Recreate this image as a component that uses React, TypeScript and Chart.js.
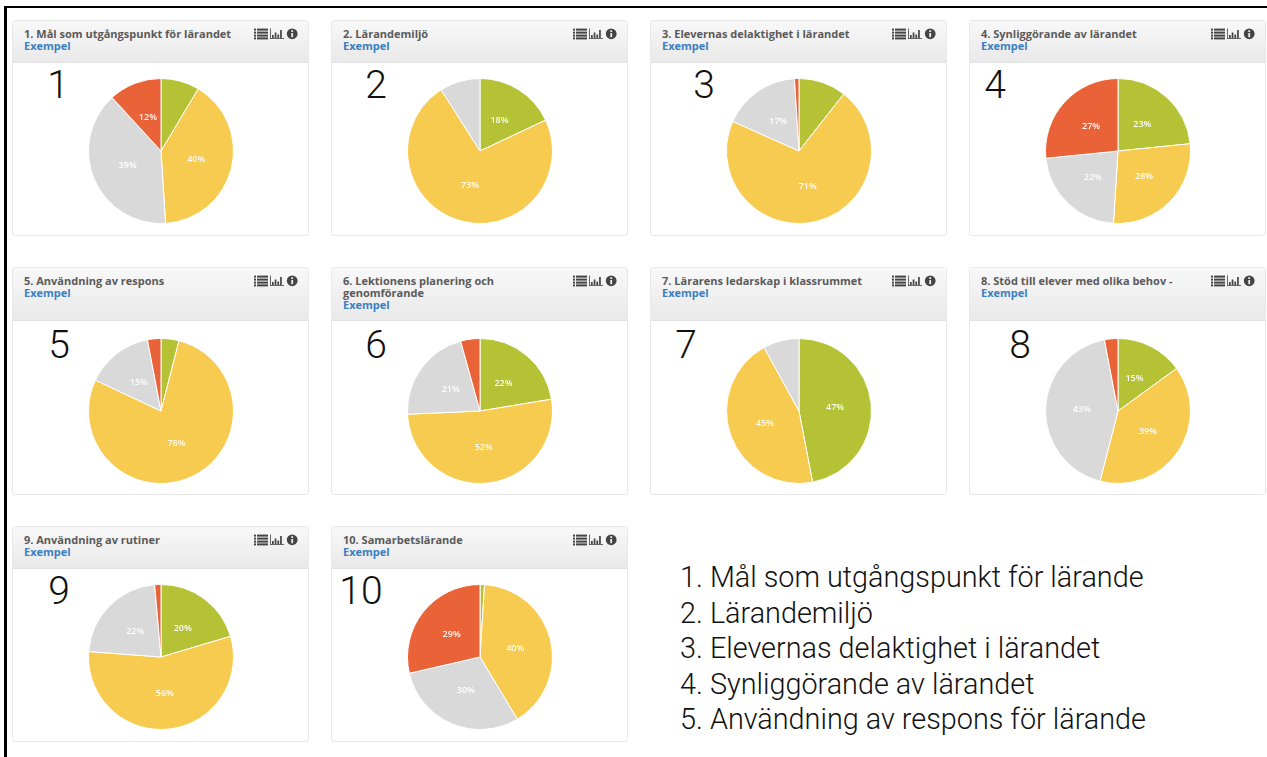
import React, { useEffect, useRef } from "react";
import { Chart, registerables } from "chart.js";

Chart.register(...registerables);

const segmentNames = ["Grön", "Gul", "Grå", "Röd"];
const segmentColors = ["#b5c235", "#f7cb4f", "#d9d9d9", "#ea6238"];

const titles = [
  "1. Mål som utgångspunkt för lärandet",
  "2. Lärandemiljö",
  "3. Elevernas delaktighet i lärandet",
  "4. Synliggörande av lärandet",
  "5. Användning av respons",
  "6. Lektionens planering och genomförande",
  "7. Lärarens ledarskap i klassrummet",
  "8. Stöd till elever med olika behov -",
  "9. Användning av rutiner",
  "10. Samarbetslärande",
];

const pie1 = [8.6, 40.4, 39.2, 11.8];
const pie2 = [18, 73, 9, 0];
const pie3 = [10.6, 71.1, 17.3, 1];
const pie4 = [23.4, 27.6, 22.4, 26.6];
const pie5 = [4, 78, 15, 3];
const pie6 = [22.4, 51.9, 21.4, 4.3];
const pie7 = [47, 45, 8, 0];
const pie8 = [15, 39, 43, 3];
const pie9 = [20.4, 55.8, 22.4, 1.4];
const pie10 = [1, 40.4, 30, 28.6];
const pies = [pie1, pie2, pie3, pie4, pie5, pie6, pie7, pie8, pie9, pie10];

const legendLines = [
  "1. Mål som utgångspunkt för lärande",
  "2. Lärandemiljö",
  "3. Elevernas delaktighet i lärandet",
  "4. Synliggörande av lärandet",
  "5. Användning av respons för lärande",
];

const colX = [12, 331, 650, 969];
const rows = [
  { top: 20, height: 216, header: 42, cy: 151 },
  { top: 267, height: 228, header: 53, cy: 411 },
  { top: 526, height: 216, header: 42, cy: 657 },
];
const numberX = [58, 376, 704, 995, 59, 376, 686, 1020, 59, 361];

const labelPlugin = {
  id: "pctLabels",
  afterDatasetsDraw(chart: any) {
    const ctx = chart.ctx;
    const meta = chart.getDatasetMeta(0);
    const data = chart.data.datasets[0].data;
    ctx.save();
    ctx.font = "600 9px 'Open Sans'";
    ctx.fillStyle = "rgba(255,255,255,0.95)";
    ctx.textAlign = "center";
    ctx.textBaseline = "middle";
    meta.data.forEach((arc: any, i: number) => {
      if (data[i] < 11.5) return;
      const p = arc.tooltipPosition();
      ctx.fillText(Math.round(data[i]) + "%", p.x, p.y);
    });
    ctx.restore();
  },
};

function Pie({ values }: { values: number[] }) {
  const ref = useRef<HTMLCanvasElement>(null);
  useEffect(() => {
    const chart = new Chart(ref.current!, {
      type: "pie",
      data: {
        labels: segmentNames,
        datasets: [
          {
            data: values,
            backgroundColor: segmentColors,
            borderColor: "#ffffff",
            borderWidth: 1,
          },
        ],
      },
      options: {
        responsive: false,
        animation: false,
        plugins: { legend: { display: false }, tooltip: { enabled: false } },
      },
      plugins: [labelPlugin],
    } as any);
    return () => chart.destroy();
  }, [values]);
  return <canvas ref={ref} width={146} height={146} style={{ display: "block" }} />;
}

function Icons() {
  const c = "#444";
  return (
    <svg width={44} height={12} viewBox="0 0 44 12" style={{ position: "absolute", top: 7, right: 10 }}>
      <g fill={c}>
        {[0.6, 3.6, 6.6, 9.4].map((y) => (
          <g key={y}>
            <rect x={0} y={y} width={2} height={2} />
            <rect x={3} y={y} width={11} height={2} />
          </g>
        ))}
        <rect x={16} y={0.5} width={0.8} height={10.5} />
        <rect x={16} y={10.2} width={14} height={0.8} />
        <rect x={18} y={7} width={1.7} height={3} />
        <rect x={20.7} y={4.5} width={1.7} height={5.5} />
        <rect x={23.4} y={6.5} width={1.7} height={3.5} />
        <rect x={26.1} y={2} width={1.7} height={8} />
        <circle cx={38.2} cy={5.8} r={5.4} />
      </g>
      <rect x={37.3} y={2.2} width={1.8} height={1.8} fill="#eee" />
      <rect x={37.3} y={5} width={1.8} height={4.2} fill="#eee" />
    </svg>
  );
}

function Panel({ index }: { index: number }) {
  const col = index % 4;
  const rowIndex = Math.floor(index / 4);
  const row = rows[rowIndex];
  const left = colX[col];
  return (
    <>
      <div
        style={{
          position: "absolute",
          left,
          top: row.top,
          width: 297,
          height: row.height,
          boxSizing: "border-box",
          border: "1px solid #e8e8e8",
          borderRadius: 3,
          background: "#fff",
          overflow: "hidden",
        }}
      >
        <div
          style={{
            position: "relative",
            height: row.header,
            boxSizing: "border-box",
            background: "linear-gradient(#f8f8f8, #e9e9e9)",
            borderBottom: "1px solid #e2e2e2",
            padding: "6.5px 60px 0 11px",
            font: "bold 11px/12px 'Open Sans'",
            color: "#5a5a5a",
          }}
        >
          <div>{titles[index]}</div>
          <div style={{ color: "#3a80c0" }}>Exempel</div>
          <Icons />
        </div>
      </div>
      <div style={{ position: "absolute", left: left + 149 - 73, top: row.cy - 73 }}>
        <Pie values={pies[index]} />
      </div>
      <div
        style={{
          position: "absolute",
          left: numberX[index],
          top: row.cy - 91,
          transform: "translateX(-50%)",
          font: "300 39px/50px Roboto",
          color: "#111",
        }}
      >
        {index + 1}
      </div>
    </>
  );
}

export default function App() {
  return (
    <div
      style={{
        position: "absolute",
        left: 0,
        top: 0,
        width: 1267,
        height: 757,
        overflow: "hidden",
        background: "#fff",
        filter: "blur(0.4px)",
      }}
    >
      <div style={{ position: "absolute", left: 4, top: 6, width: 1263, height: 2, background: "#000" }} />
      <div style={{ position: "absolute", left: 4, top: 6, width: 3, height: 751, background: "#000" }} />
      {titles.map((_, i) => (
        <Panel key={i} index={i} />
      ))}
      <div
        style={{
          position: "absolute",
          left: 680,
          top: 560,
          font: "300 28.8px/35.5px Roboto",
          color: "#111",
          whiteSpace: "nowrap",
        }}
      >
        {legendLines.map((l) => (
          <div key={l}>{l}</div>
        ))}
      </div>
    </div>
  );
}
